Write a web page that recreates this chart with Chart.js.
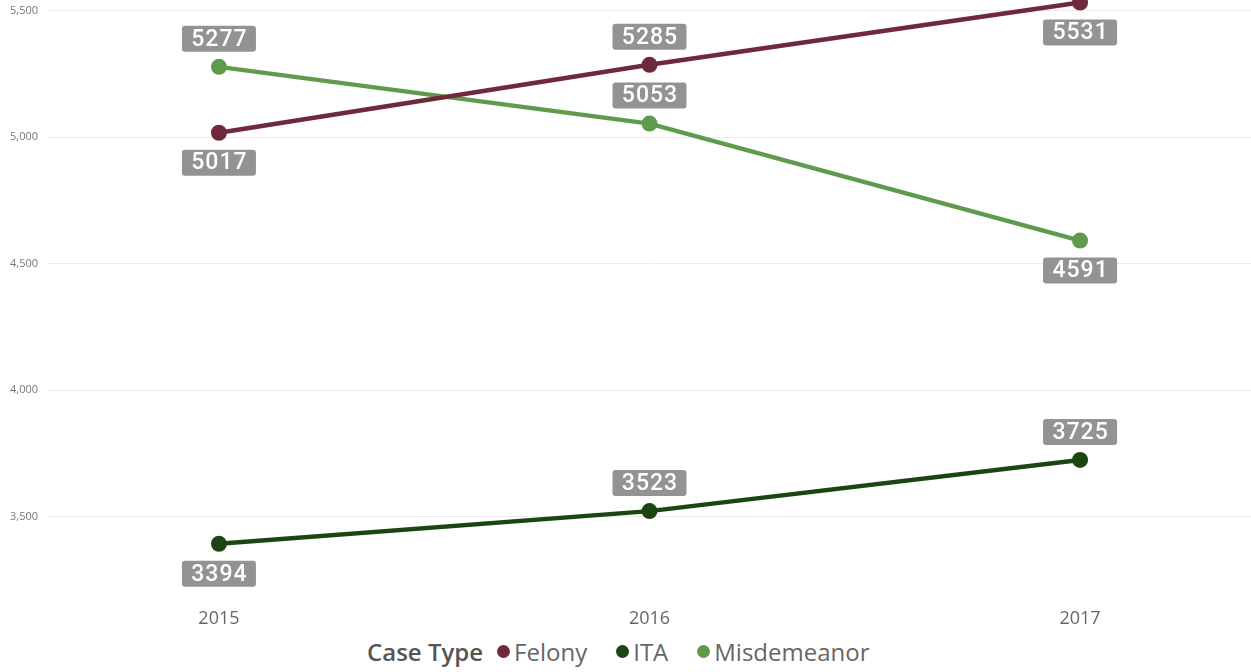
<!DOCTYPE html>
<html>
<head>
<meta charset="utf-8">
<title>Case Type by Year</title>
<script src="https://cdn.jsdelivr.net/npm/chart.js@4/dist/chart.umd.min.js"></script>
<style>
  html, body { margin: 0; padding: 0; background: #fff; }
  #wrap { position: relative; width: 1251px; height: 630px; }
  #legend {
    display: flex; align-items: center;
    height: 42px; font-family: "Open Sans", "Noto Sans", sans-serif;
    font-size: 24px; color: #666; padding-left: 367px;
  }
  #legend .title { font-weight: 600; color: #555; margin-right: 14px; }
  #legend .item { display: flex; align-items: center; margin-right: 29px; }
  #legend .dot { width: 13px; height: 13px; border-radius: 50%; margin-right: 4px; }
</style>
</head>
<body>
<div id="wrap"><canvas id="chartCanvas"></canvas></div>
<div id="legend"></div>
<script>
// years on the x axis
const years = [2015, 2016, 2017];
const yTicks = [3500, 4000, 4500, 5000, 5500];

// counts per case type
const felony = [5017, 5285, 5531];
const ita = [3394, 3523, 3725];
const misdemeanor = [5277, 5053, 4591];

const seriesNames = ['Felony', 'ITA', 'Misdemeanor'];
const seriesColors = ['#6e2a3a', '#1c4611', '#5f9a4d'];
// where each value badge sits: above or below its point
const badgeSide = [
  ['below', 'above', 'below'],
  ['below', 'above', 'above'],
  ['above', 'above', 'below']
];

function toPoints(values) {
  return values.map((v, i) => ({ x: years[i], y: v }));
}

const seriesValues = [felony, ita, misdemeanor];
const datasets = seriesValues.map((vals, i) => ({
  label: seriesNames[i],
  data: toPoints(vals),
  borderColor: seriesColors[i],
  backgroundColor: seriesColors[i],
  borderWidth: 4.5,
  pointRadius: 8,
  pointHoverRadius: 8,
  pointBorderWidth: 0,
  tension: 0,
  clip: false
}));

// gray boxes with the value in white
const valueBadges = {
  id: 'valueBadges',
  afterDatasetsDraw(chart) {
    const ctx = chart.ctx;
    ctx.save();
    ctx.font = '500 23px Roboto';
    ctx.letterSpacing = '1px';
    ctx.textAlign = 'center';
    ctx.textBaseline = 'middle';
    chart.data.datasets.forEach((ds, di) => {
      const meta = chart.getDatasetMeta(di);
      meta.data.forEach((pt, i) => {
        const side = badgeSide[di][i];
        const cx = pt.x;
        const cy = side === 'above' ? pt.y - 28 : pt.y + 30;
        const w = 74, h = 26;
        ctx.fillStyle = '#939393';
        ctx.beginPath();
        ctx.roundRect(cx - w / 2, cy - h / 2, w, h, 3);
        ctx.fill();
        ctx.fillStyle = '#fff';
        ctx.fillText(String(seriesValues[di][i]), cx + 0.5, cy + 1);
      });
    });
    ctx.restore();
  }
};

function noPad(s) {
  s.paddingTop = 0;
  s.paddingBottom = 0;
  s.paddingLeft = 0;
  s.paddingRight = 0;
}

const chart = new Chart(document.getElementById('chartCanvas'), {
  type: 'line',
  data: { datasets: datasets },
  options: {
    responsive: true,
    maintainAspectRatio: false,
    animation: false,
    layout: { padding: 0, autoPadding: false },
    plugins: {
      legend: { display: false },
      tooltip: { enabled: false }
    },
    scales: {
      x: {
        type: 'linear',
        min: 2014.603,
        max: 2017.397,
        grid: { display: false },
        border: { display: false },
        afterBuildTicks: s => { s.ticks = years.map(v => ({ value: v })); },
        afterFit: s => { s.height = 32; noPad(s); },
        ticks: {
          padding: 2,
          color: '#666',
          font: { family: 'Open Sans', size: 18 },
          callback: v => String(v)
        }
      },
      y: {
        min: 3180,
        max: 5541,
        grid: { color: '#ececec', drawTicks: false },
        border: { display: false },
        afterBuildTicks: s => { s.ticks = yTicks.map(v => ({ value: v })); },
        afterFit: s => { s.width = 48; noPad(s); },
        ticks: {
          padding: 10,
          color: '#777',
          font: { family: 'Open Sans', size: 11 },
          callback: v => v.toLocaleString('en-US')
        }
      }
    }
  },
  plugins: [valueBadges]
});

// legend row under the chart
let legendEl = document.getElementById('legend');
let title = document.createElement('span');
title.className = 'title';
title.textContent = 'Case Type';
legendEl.appendChild(title);
seriesNames.forEach((name, i) => {
  let item = document.createElement('span');
  item.className = 'item';
  let dot = document.createElement('span');
  dot.className = 'dot';
  dot.style.background = seriesColors[i];
  item.appendChild(dot);
  item.appendChild(document.createTextNode(name));
  legendEl.appendChild(item);
});
</script>
</body>
</html>
